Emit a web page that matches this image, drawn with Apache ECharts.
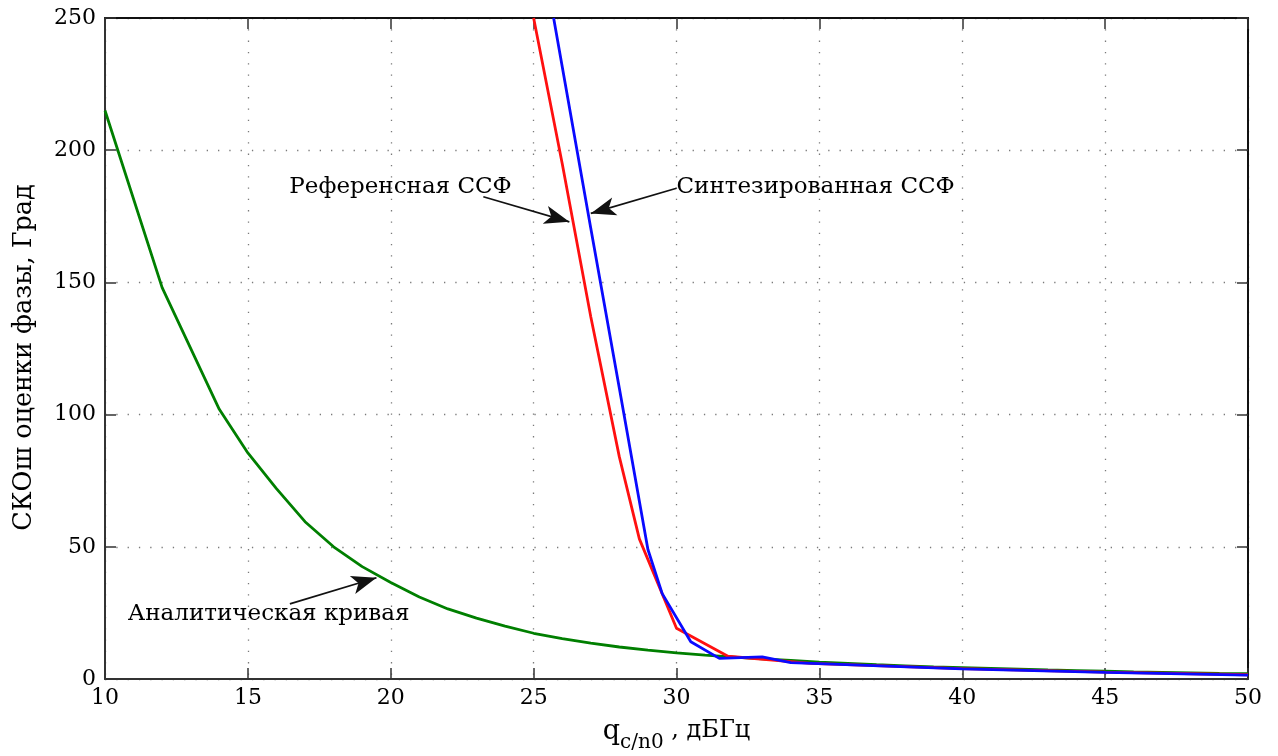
<!DOCTYPE html>
<html>
<head>
<meta charset="utf-8">
<script src="https://cdn.jsdelivr.net/npm/echarts@6/dist/echarts.min.js"></script>
<style>
html,body{margin:0;padding:0;background:#fff;}
#chart{width:1278px;height:756px;}
</style>
</head>
<body>
<div id="chart"></div>
<script>
// ---- data ----
const xTicks = [10, 15, 20, 25, 30, 35, 40, 45, 50];
const yTicks = [0, 50, 100, 150, 200, 250];

const analyticX = [10,12,14,15,16,17,18,19,20,21,22,23,24,25,26,27,28,29,30,31,32,33,34,35,36,37,38,39,40,41,42,43,44,45,46,47,48,49,50];
const analyticY = [215,148,102,85.5,72,59.5,50,42.5,36.5,31,26.5,23,20,17.3,15.3,13.6,12.1,10.9,9.9,9.0,8.3,7.6,7.0,6.4,5.9,5.4,5.0,4.6,4.3,4.0,3.7,3.4,3.2,3.0,2.7,2.5,2.3,2.1,2.0];

const referenceX = [25.0,26,27,28,28.7,30.0,31.8,34.7,40,45,50];
const referenceY = [250,195,137,84,53,19.2,8.6,5.9,3.9,2.6,1.6];

const synthX = [25.7,27,28,29,29.5,30.5,31.5,33.0,34.0,40,45,50];
const synthY = [250,170.5,110,49,32.3,14.1,7.8,8.4,6.2,3.8,2.5,1.5];

const labelTexts = ['Референсная ССФ', 'Синтезированная ССФ', 'Аналитическая кривая'];
const labelAt = [[16.45, 186], [30.0, 186], [10.8, 24.6]];
const arrowFrom = [[23.24, 182.4], [30.0, 185.6], [16.47, 28.4]];
const arrowTo = [[26.25, 172.9], [27.0, 176.1], [19.5, 38.3]];

// ---- build ----
const zip = (xs, ys) => xs.map((x, i) => [x, ys[i]]);
const FONT = 'DejaVu Serif';
const frameColor = '#333';
const TXT = '#000';

const chart = echarts.init(document.getElementById('chart'));

const axisCommonX = { type: 'value', min: xTicks[0], max: xTicks[xTicks.length - 1], interval: xTicks[1] - xTicks[0] };
const axisCommonY = { type: 'value', min: yTicks[0], max: yTicks[yTicks.length - 1], interval: yTicks[1] - yTicks[0] };

const option = {
  animation: false,
  backgroundColor: '#fff',
  grid: { left: 105, right: 30, top: 18, bottom: 77, containLabel: false, outerBoundsMode: 'none' },
  xAxis: [
    Object.assign({}, axisCommonX, {
      position: 'bottom',
      name: '{q|q}{sub|c/n0}{n| , дБГц}',
      nameLocation: 'middle',
      nameGap: 39,
      nameTextStyle: {
        fontFamily: FONT, color: TXT,
        rich: {
          q: { fontFamily: FONT, fontSize: 27, color: TXT, verticalAlign: 'bottom', padding: [0, 0, 8, 0] },
          sub: { fontFamily: FONT, fontSize: 20, color: TXT, verticalAlign: 'bottom' },
          n: { fontFamily: FONT, fontSize: 24, color: TXT, verticalAlign: 'bottom', padding: [0, 0, 10, 0] }
        }
      },
      axisLine: { show: true, onZero: false, lineStyle: { color: frameColor, width: 2 } },
      axisTick: { show: true, inside: true, length: 11, lineStyle: { color: frameColor, width: 1.5 } },
      axisLabel: { show: true, margin: 8, fontFamily: FONT, fontSize: 22, color: TXT, showMinLabel: true, showMaxLabel: true },
      splitLine: { show: true, lineStyle: { color: '#7a7a7a', width: 1.3, type: [1.3, 10] } }
    }),
    Object.assign({}, axisCommonX, {
      position: 'top',
      axisLine: { show: true, onZero: false, lineStyle: { color: '#111', width: 2 } },
      axisTick: { show: true, inside: true, length: 11, lineStyle: { color: frameColor, width: 1.5 } },
      axisLabel: { show: false },
      splitLine: { show: false }
    })
  ],
  yAxis: [
    Object.assign({}, axisCommonY, {
      position: 'left',
      name: 'СКОш оценки фазы, Град',
      nameLocation: 'middle',
      nameGap: 68,
      nameTextStyle: { fontFamily: FONT, fontSize: 25.5, color: TXT, padding: [0, 18, 0, 0] },
      axisLine: { show: true, onZero: false, lineStyle: { color: frameColor, width: 2 } },
      axisTick: { show: true, inside: true, length: 11, lineStyle: { color: frameColor, width: 1.5 } },
      axisLabel: { show: true, margin: 9, fontFamily: FONT, fontSize: 22, color: TXT, showMinLabel: true, showMaxLabel: true },
      splitLine: { show: true, lineStyle: { color: '#7a7a7a', width: 1.3, type: [1.3, 10] } }
    }),
    Object.assign({}, axisCommonY, {
      position: 'right',
      axisLine: { show: true, onZero: false, lineStyle: { color: '#111', width: 2 } },
      axisTick: { show: true, inside: true, length: 11, lineStyle: { color: frameColor, width: 1.5 } },
      axisLabel: { show: false },
      splitLine: { show: false }
    })
  ],
  series: [
    {
      name: 'Аналитическая кривая', type: 'line', data: zip(analyticX, analyticY),
      showSymbol: false, symbol: 'none', clip: true,
      lineStyle: { color: '#007f00', width: 2.8 }, z: 3
    },
    {
      name: 'Референсная ССФ', type: 'line', data: zip(referenceX, referenceY),
      showSymbol: false, symbol: 'none', clip: true,
      lineStyle: { color: '#ff1010', width: 2.8 }, z: 4
    },
    {
      name: 'Синтезированная ССФ', type: 'line', data: zip(synthX, synthY),
      showSymbol: false, symbol: 'none', clip: true,
      lineStyle: { color: '#0a0aff', width: 2.8 }, z: 5
    },
    {
      name: 'annotations', type: 'scatter', symbolSize: 0, silent: true, z: 6,
      itemStyle: { opacity: 1 },
      data: labelAt.map((p, i) => [p[0], p[1], labelTexts[i]]),
      label: {
        show: true, position: 'right', distance: 0, opacity: 1,
        formatter: p => p.value[2],
        fontFamily: FONT, fontSize: 23, color: TXT
      },
      markLine: {
        silent: true, animation: false,
        symbol: ['none', 'arrow'], symbolSize: [14, 25],
        label: { show: false },
        lineStyle: { color: '#111', width: 1.7, type: 'solid', opacity: 1 },
        emphasis: { disabled: true },
        data: arrowFrom.map((f, i) => [{ coord: f }, { coord: arrowTo[i] }])
      }
    }
  ]
};
chart.setOption(option);
</script>
</body>
</html>
